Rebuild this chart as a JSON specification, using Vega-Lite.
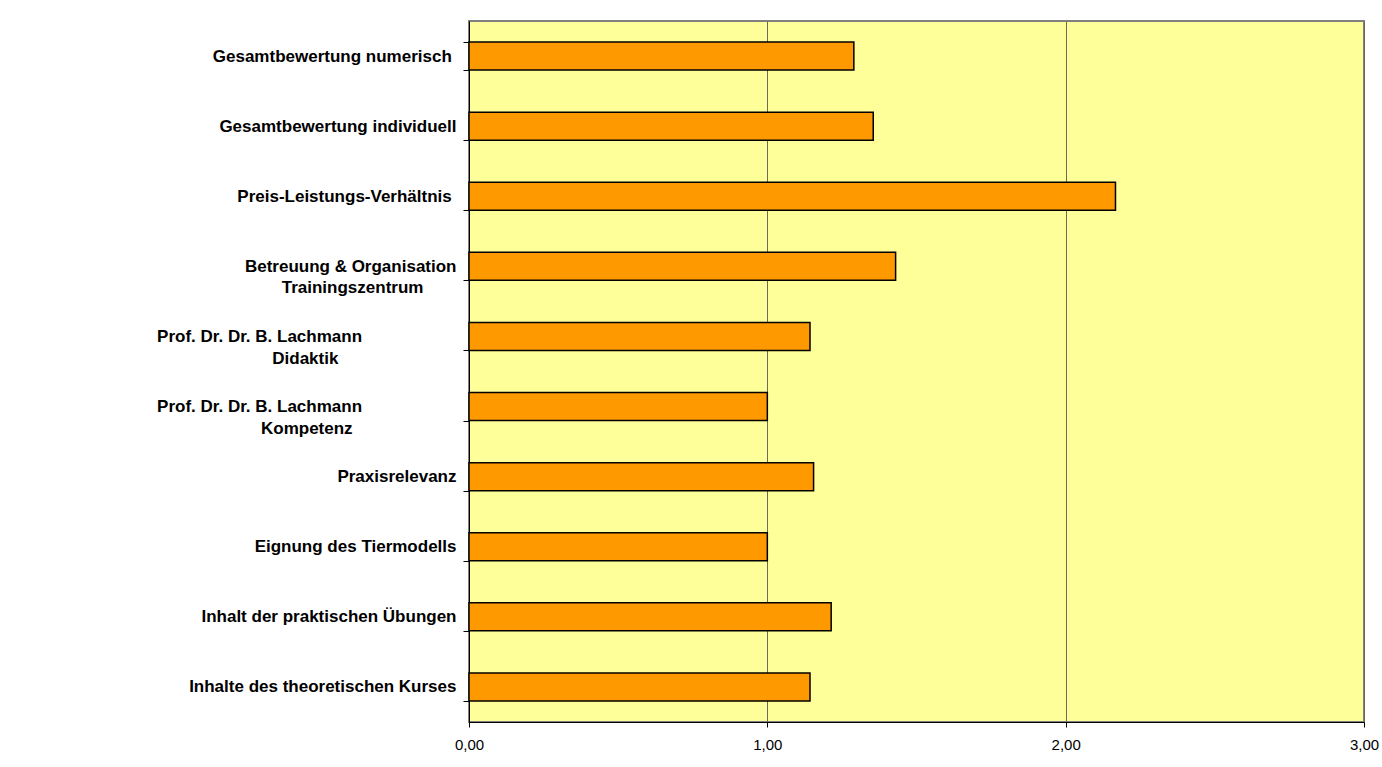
{
  "$schema": "https://vega.github.io/schema/vega-lite/v6.json",
  "autosize": {"type": "none"},
  "width": 895,
  "height": 701,
  "padding": {"left": 469, "top": 21, "right": 18, "bottom": 45},
  "background": "#ffffff",
  "data": {
    "values": [
      {"kategorie": "Gesamtbewertung numerisch\u00a0\u200b", "wert": 1.29},
      {"kategorie": "Gesamtbewertung individuell", "wert": 1.355},
      {"kategorie": "Preis-Leistungs-Verhältnis\u00a0\u200b", "wert": 2.167},
      {"kategorie": "Betreuung & Organisation\nTrainingszentrum\u00a0\u00a0\u00a0\u00a0\u00a0\u00a0\u00a0\u200b", "wert": 1.43},
      {"kategorie": "Prof. Dr. Dr. B. Lachmann\u00a0\u00a0\u00a0\u00a0\u00a0\u00a0\u00a0\u00a0\u00a0\u00a0\u00a0\u00a0\u00a0\u00a0\u00a0\u00a0\u00a0\u00a0\u00a0\u00a0\u200b\nDidaktik\u00a0\u00a0\u00a0\u00a0\u00a0\u00a0\u00a0\u00a0\u00a0\u00a0\u00a0\u00a0\u00a0\u00a0\u00a0\u00a0\u00a0\u00a0\u00a0\u00a0\u00a0\u00a0\u00a0\u00a0\u00a0\u200b", "wert": 1.143},
      {"kategorie": "Prof. Dr. Dr. B. Lachmann\u00a0\u00a0\u00a0\u00a0\u00a0\u00a0\u00a0\u00a0\u00a0\u00a0\u00a0\u00a0\u00a0\u00a0\u00a0\u00a0\u00a0\u00a0\u00a0\u00a0\u200b\nKompetenz\u00a0\u00a0\u00a0\u00a0\u00a0\u00a0\u00a0\u00a0\u00a0\u00a0\u00a0\u00a0\u00a0\u00a0\u00a0\u00a0\u00a0\u00a0\u00a0\u00a0\u00a0\u00a0\u200b", "wert": 1.0},
      {"kategorie": "Praxisrelevanz", "wert": 1.155},
      {"kategorie": "Eignung des Tiermodells", "wert": 1.0},
      {"kategorie": "Inhalt der praktischen Übungen", "wert": 1.214},
      {"kategorie": "Inhalte des theoretischen Kurses", "wert": 1.143}
    ]
  },
  "mark": {"type": "bar", "fill": "#FF9900", "stroke": "#000000", "strokeWidth": 1.5},
  "encoding": {
    "y": {
      "field": "kategorie",
      "type": "nominal",
      "sort": null,
      "scale": {"paddingInner": 0.6, "paddingOuter": 0.3},
      "axis": {
        "title": null,
        "tickBand": "extent",
        "tickSize": 6,
        "tickColor": "#000000",
        "domainColor": "#000000",
        "domainWidth": 1,
        "labelFont": "Liberation Sans",
        "labelFontWeight": "bold",
        "labelFontSize": 17,
        "labelColor": "#000000",
        "labelPadding": 7,
        "labelLineHeight": 21.6,
        "labelLimit": 500,
        "labelExpr": "split(datum.label, '\\n')",
        "grid": false
      }
    },
    "x": {
      "field": "wert",
      "type": "quantitative",
      "scale": {"domain": [0, 3], "nice": false},
      "axis": {
        "title": null,
        "values": [0, 1, 2, 3],
        "labelExpr": "replace(format(datum.value, '.2f'), '.', ',')",
        "labelFont": "Liberation Sans",
        "labelFontSize": 15,
        "labelColor": "#000000",
        "labelPadding": 10,
        "labelFlush": false,
        "tickSize": 5,
        "tickColor": "#000000",
        "domainColor": "#000000",
        "grid": true,
        "gridColor": "#6b6b5a",
        "gridWidth": 1,
        "gridOpacity": 1
      }
    }
  },
  "config": {
    "view": {"fill": "#FFFF99", "stroke": "#808080", "strokeWidth": 2}
  }
}
